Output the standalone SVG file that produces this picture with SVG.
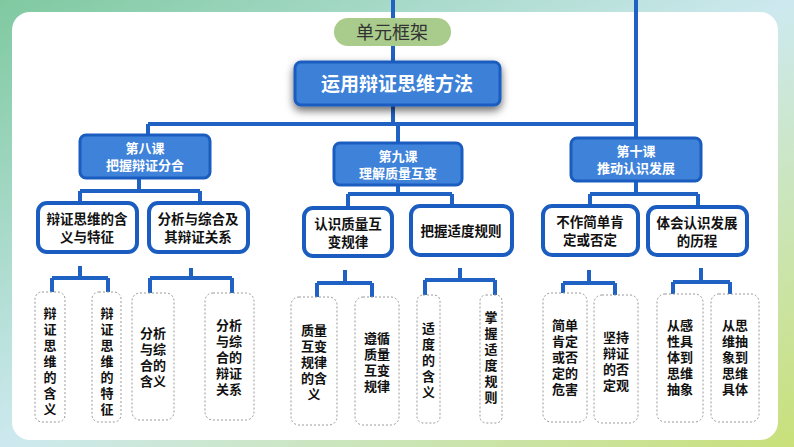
<svg xmlns="http://www.w3.org/2000/svg" width="794" height="447" viewBox="0 0 794 447">
<defs>
<linearGradient id="bg" x1="0" y1="0" x2="1" y2="1"><stop offset="0" stop-color="#7fc9a0"/><stop offset="0.5" stop-color="#cde9ef"/><stop offset="1" stop-color="#c9e07a"/></linearGradient>
<filter id="sh" x="-20%" y="-30%" width="140%" height="170%"><feDropShadow dx="0" dy="4" stdDeviation="4" flood-color="#000" flood-opacity="0.6"/></filter>
<style>
text{font-family:"Noto Sans CJK SC","Noto Sans",sans-serif;font-weight:bold;text-anchor:middle}
.ln{stroke:#1f62c4;stroke-width:4;fill:none}
.lesson{fill:#3e82da;stroke:#1b5cc0;stroke-width:3}
.lt{fill:#fff;font-size:13px}
.sub{fill:#fff;stroke:#1b5cc0;stroke-width:4}
.st{fill:#111;font-size:13.5px}
.leaf{fill:#fff;stroke:#999;stroke-width:1;stroke-dasharray:2 2}
.ft{fill:#111;font-size:13px}
.ut{font-weight:normal;font-size:18px;fill:#333}
</style>
</defs>
<rect width="794" height="447" fill="url(#bg)"/>
<rect x="12" y="12" width="766" height="428" rx="18" fill="#fff"/>
<g id="connectors">
<path class="ln" d="M393 0V61M393 105V124M148 124H636M636 0V138M148 124V135M398 124V143M139 178V191M80 191H200M80 191V203M200 191V203M398 185V194M348 194H452M348 194V208M452 194V206M636 181V194M590 194H698M590 194V206M698 194V207"/>
<path class="ln" d="M80 266V278M52 278H108M52 278V292M108 278V292M191 268V278M150 278H232M150 278V293M232 278V293M345 270V283M317 283H372M317 283V297M372 283V297M460 268V280M425 280H495M425 280V295M495 280V295M589 270V283M563 283H615M563 283V293M615 283V295M701 268V282M673 282H730M673 282V294M730 282V294"/>
</g>
<g id="unit"><rect x="334" y="18" width="117" height="28" rx="14" fill="#a9cb8b"/><text class="ut" x="392" y="39">单元框架</text></g>
<g id="main"><rect x="295" y="62" width="205" height="43" rx="6" fill="#3d80d8" stroke="#1b5cc0" stroke-width="3" filter="url(#sh)"/><text x="397" y="91" font-size="19" fill="#fff">运用辩证思维方法</text></g>
<g id="l8"><rect class="lesson" x="80" y="135" width="130" height="43" rx="6"/><text class="lt" x="145" y="153">第八课</text><text class="lt" x="145" y="170">把握辩证分合</text></g>
<g id="l9"><rect class="lesson" x="334" y="143" width="128" height="42" rx="6"/><text class="lt" x="398" y="161">第九课</text><text class="lt" x="398" y="178">理解质量互变</text></g>
<g id="l10"><rect class="lesson" x="571" y="138" width="130" height="43" rx="6"/><text class="lt" x="636" y="156">第十课</text><text class="lt" x="636" y="173">推动认识发展</text></g>
<g id="sA"><rect class="sub" x="38" y="203" width="99" height="49" rx="9"/><text class="st" x="87" y="224">辩证思维的含</text><text class="st" x="87" y="242">义与特征</text></g>
<g id="sB"><rect class="sub" x="149" y="203" width="99" height="49" rx="9"/><text class="st" x="198" y="224">分析与综合及</text><text class="st" x="198" y="242">其辩证关系</text></g>
<g id="sC"><rect class="sub" x="304" y="208" width="88" height="48" rx="9"/><text class="st" x="348" y="229">认识质量互</text><text class="st" x="348" y="247">变规律</text></g>
<g id="sD"><rect class="sub" x="411" y="206" width="101" height="49" rx="9"/><text class="st" x="461" y="236">把握适度规则</text></g>
<g id="sE"><rect class="sub" x="543" y="206" width="95" height="49" rx="9"/><text class="st" x="590" y="227">不作简单肯</text><text class="st" x="590" y="245">定或否定</text></g>
<g id="sF"><rect class="sub" x="648" y="207" width="99" height="48" rx="9"/><text class="st" x="697" y="228">体会认识发展</text><text class="st" x="697" y="246">的历程</text></g>
<g id="a1"><rect class="leaf" x="35" y="292" width="30" height="130" rx="7"/><text class="ft"><tspan x="50" y="318">辩</tspan><tspan x="50" dy="16">证</tspan><tspan x="50" dy="16">思</tspan><tspan x="50" dy="16">维</tspan><tspan x="50" dy="16">的</tspan><tspan x="50" dy="16">含</tspan><tspan x="50" dy="16">义</tspan></text></g>
<g id="a2"><rect class="leaf" x="92" y="292" width="29" height="130" rx="7"/><text class="ft"><tspan x="107" y="318">辩</tspan><tspan x="107" dy="16">证</tspan><tspan x="107" dy="16">思</tspan><tspan x="107" dy="16">维</tspan><tspan x="107" dy="16">的</tspan><tspan x="107" dy="16">特</tspan><tspan x="107" dy="16">征</tspan></text></g>
<g id="b1"><rect class="leaf" x="132" y="293" width="42" height="127" rx="8"/><text class="ft"><tspan x="153" y="338">分析</tspan><tspan x="153" dy="16">与综</tspan><tspan x="153" dy="16">合的</tspan><tspan x="153" dy="16">含义</tspan></text></g>
<g id="b2"><rect class="leaf" x="205" y="293" width="49" height="127" rx="8"/><text class="ft"><tspan x="229" y="330">分析</tspan><tspan x="229" dy="16">与综</tspan><tspan x="229" dy="16">合的</tspan><tspan x="229" dy="16">辩证</tspan><tspan x="229" dy="16">关系</tspan></text></g>
<g id="c1"><rect class="leaf" x="291" y="297" width="46" height="128" rx="8"/><text class="ft"><tspan x="314" y="335">质量</tspan><tspan x="314" dy="16">互变</tspan><tspan x="314" dy="16">规律</tspan><tspan x="314" dy="16">的含</tspan><tspan x="314" dy="16">义</tspan></text></g>
<g id="c2"><rect class="leaf" x="355" y="297" width="44" height="128" rx="8"/><text class="ft"><tspan x="377" y="343">遵循</tspan><tspan x="377" dy="16">质量</tspan><tspan x="377" dy="16">互变</tspan><tspan x="377" dy="16">规律</tspan></text></g>
<g id="d1"><rect class="leaf" x="417" y="295" width="23" height="128" rx="6"/><text class="ft"><tspan x="428.5" y="333">适</tspan><tspan x="428.5" dy="16">度</tspan><tspan x="428.5" dy="16">的</tspan><tspan x="428.5" dy="16">含</tspan><tspan x="428.5" dy="16">义</tspan></text></g>
<g id="d2"><rect class="leaf" x="480" y="295" width="22" height="128" rx="6"/><text class="ft"><tspan x="491" y="322">掌</tspan><tspan x="491" dy="16">握</tspan><tspan x="491" dy="16">适</tspan><tspan x="491" dy="16">度</tspan><tspan x="491" dy="16">规</tspan><tspan x="491" dy="16">则</tspan></text></g>
<g id="e1"><rect class="leaf" x="543" y="293" width="44" height="129" rx="8"/><text class="ft"><tspan x="565" y="330">简单</tspan><tspan x="565" dy="16">肯定</tspan><tspan x="565" dy="16">或否</tspan><tspan x="565" dy="16">定的</tspan><tspan x="565" dy="16">危害</tspan></text></g>
<g id="e2"><rect class="leaf" x="594" y="295" width="44" height="128" rx="8"/><text class="ft"><tspan x="616" y="342">坚持</tspan><tspan x="616" dy="16">辩证</tspan><tspan x="616" dy="16">的否</tspan><tspan x="616" dy="16">定观</tspan></text></g>
<g id="f1"><rect class="leaf" x="657" y="294" width="46" height="128" rx="8"/><text class="ft"><tspan x="680" y="330">从感</tspan><tspan x="680" dy="16">性具</tspan><tspan x="680" dy="16">体到</tspan><tspan x="680" dy="16">思维</tspan><tspan x="680" dy="16">抽象</tspan></text></g>
<g id="f2"><rect class="leaf" x="711" y="294" width="48" height="128" rx="8"/><text class="ft"><tspan x="735" y="330">从思</tspan><tspan x="735" dy="16">维抽</tspan><tspan x="735" dy="16">象到</tspan><tspan x="735" dy="16">思维</tspan><tspan x="735" dy="16">具体</tspan></text></g>
</svg>
